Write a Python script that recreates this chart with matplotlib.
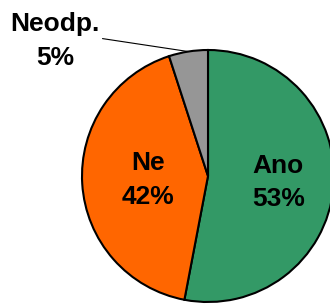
import numpy as np
import matplotlib
matplotlib.use('Agg')
import matplotlib.pyplot as plt

labels = ['Ano', 'Ne', 'Neodp.']
values = [53, 42, 5]
colors = ['#339966', '#FF6600', '#969696']

plt.rcParams['font.family'] = ['Liberation Sans', 'DejaVu Sans']

fig = plt.figure(figsize=(3.3, 3.04), dpi=100)
ax = fig.add_axes([0, 0, 1, 1])
r_px = 126.0
cx, cy = 208.0, 176.0
wedges, _ = ax.pie(values, colors=colors, startangle=90, counterclock=False,
                   radius=1.0, wedgeprops=dict(edgecolor='black', linewidth=1.5))
ax.set_xlim(-cx / r_px, (330 - cx) / r_px)
ax.set_ylim(-(304 - cy) / r_px, cy / r_px)
ax.set_aspect('auto')
ax.axis('off')

# angles of wedge middles
total = sum(values)
start = 90.0
mids = []
for v in values:
    span = 360.0 * v / total
    mids.append(np.deg2rad(start - span / 2))
    start -= span

fs = 19
dist = [0.56, 0.48]
for i in range(2):
    a = mids[i]
    ax.text(dist[i] * np.cos(a), dist[i] * np.sin(a), f'{labels[i]}\n{values[i]}%',
            ha='center', va='center', fontsize=fs, fontweight='bold',
            linespacing=1.5)

a = mids[2]
ax.annotate(f'{labels[2]}\n{values[2]}%', xy=(np.cos(a), np.sin(a)),
            xytext=(-1.214, 1.071), ha='center', va='center', fontsize=fs,
            fontweight='bold', linespacing=1.5,
            arrowprops=dict(arrowstyle='-', color='black', lw=0.8,
                            relpos=(1, 0.55), shrinkA=0, shrinkB=0))

fig.savefig('out.png', dpi=100)
